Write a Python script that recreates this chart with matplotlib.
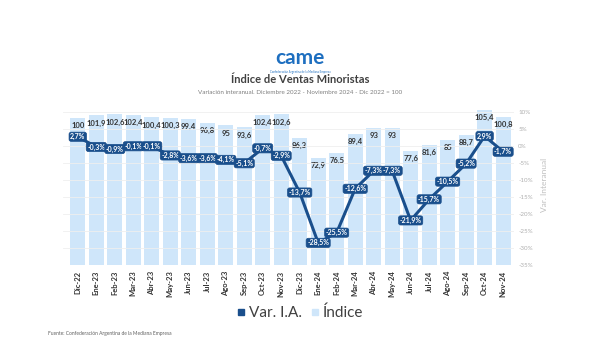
"""Indice de Ventas Minoristas (CAME): bars for the index, line for the y/y change."""

import matplotlib

matplotlib.use("Agg")
import matplotlib.pyplot as plt
from matplotlib.lines import Line2D

plt.rcParams["font.family"] = ["Lato", "DejaVu Sans"]

MONTHS = [
    "Dic-22", "Ene-23", "Feb-23", "Mar-23", "Abr-23", "May-23", "Jun-23", "Jul-23",
    "Ago-23", "Sep-23", "Oct-23", "Nov-23", "Dic-23", "Ene-24", "Feb-24", "Mar-24",
    "Abr-24", "May-24", "Jun-24", "Jul-24", "Ago-24", "Sep-24", "Oct-24", "Nov-24",
]
INDICE = [
    100, 101.9, 102.6, 102.4, 100.4, 100.3, 99.4, 96.8, 95, 93.6, 102.4, 102.6,
    86.3, 72.9, 76.5, 89.4, 93, 93, 77.6, 81.6, 85, 88.7, 105.4, 100.8,
]
VAR_IA = [
    2.7, -0.3, -0.9, -0.1, -0.1, -2.8, -3.6, -3.6, -4.1, -5.1, -0.7, -2.9,
    -13.7, -28.5, -25.5, -12.6, -7.3, -7.3, -21.9, -15.7, -10.5, -5.2, 2.9, -1.7,
]
RIGHT_TICKS = [10, 5, 0, -5, -10, -15, -20, -25, -30, -35]

BAR_COLOR = "#cfe6fa"
LINE_COLOR = "#1a4f8c"
TEXT_DARK = "#333333"


def fmt(value: float, pct: bool = False) -> str:
    """Spanish number format: comma as decimal separator."""
    text = f"{value:g}".replace(".", ",")
    return text + "%" if pct else text


def main() -> None:
    fig = plt.figure(figsize=(6, 3.6), dpi=100)
    ax = fig.add_axes([0.105, 0.264, 0.752, 0.444])
    ax2 = ax.twinx()

    x = list(range(len(MONTHS)))

    # bars (left, hidden axis)
    ax.bar(x, INDICE, width=0.8, color=BAR_COLOR, zorder=1, clip_on=False)
    for xi, val in zip(x, INDICE):
        ax.annotate(fmt(val), (xi, val), xytext=(0, -3), textcoords="offset points",
                    ha="center", va="top", fontsize=5.5, fontweight="bold",
                    color=TEXT_DARK, zorder=3)
    ax.set_ylim(0, 108.8)
    ax.set_xlim(-0.8, 23.6)
    ax.set_yticks([])
    for side in ["top", "right", "left", "bottom"]:
        ax.spines[side].set_visible(False)
        ax2.spines[side].set_visible(False)
    ax.set_xticks(x)
    ax.set_xticklabels(MONTHS, rotation=90, fontsize=5.5, fontweight="bold",
                       color=TEXT_DARK)
    ax.tick_params(axis="x", length=0, pad=4)

    # line (right axis)
    ax2.set_ylim(-35, 12)
    ax2.set_yticks(RIGHT_TICKS)
    ax2.set_yticklabels([f"{t}%" for t in RIGHT_TICKS], fontsize=4.5, color="#b0b0b0")
    ax2.tick_params(axis="y", length=0, pad=3)
    ax2.grid(axis="y", color="#efefef", linewidth=0.6, zorder=0)
    ax2.set_ylabel("Var. Interanual", fontsize=6, color="#c0c0c0", labelpad=6)
    ax2.plot(x, VAR_IA, color=LINE_COLOR, linewidth=2.2, zorder=4)
    for xi, val in zip(x, VAR_IA):
        ax2.text(xi, val, fmt(val, pct=True), ha="center", va="center",
                 fontsize=5, fontweight="bold", color="white", zorder=5,
                 bbox=dict(boxstyle="round,pad=0.15,rounding_size=0.3",
                           fc=LINE_COLOR, ec=LINE_COLOR, lw=0.5))
    ax.set_zorder(0)
    ax2.set_zorder(1)
    ax2.patch.set_visible(False)

    # header: logo, title, subtitle
    fig.text(0.5, 0.84, "came", ha="center", va="center", fontsize=15,
             fontweight="bold", color="#1e6fc0")
    fig.text(0.5, 0.8, "Confederación Argentina de la Mediana Empresa", ha="center",
             va="center", fontsize=2, color="#1e6fc0")
    fig.text(0.5, 0.778, "Índice de Ventas Minoristas", ha="center", va="center",
             fontsize=8, fontweight="bold", color="#404040")
    fig.text(0.5, 0.742,
             "Variación interanual. Diciembre 2022 - Noviembre 2024 - Dic 2022 = 100",
             ha="center", va="center", fontsize=4.5, color="#808080")

    # legend
    handles = [
        Line2D([], [], marker="s", linestyle="none", markersize=5,
               color=LINE_COLOR, label="Var. I.A."),
        Line2D([], [], marker="s", linestyle="none", markersize=5,
               color=BAR_COLOR, label="Índice"),
    ]
    fig.legend(handles=handles, loc="center", bbox_to_anchor=(0.5, 0.13), ncol=2,
               frameon=False, fontsize=11, handlelength=0.6, handletextpad=0.2,
               columnspacing=0.6, labelcolor="#404040")

    fig.text(0.08, 0.075, "Fuente: Confederación Argentina de la Mediana Empresa",
             fontsize=3.5, color="#606060", va="center")

    fig.savefig("out.png", dpi=100, facecolor="white")


if __name__ == "__main__":
    main()
